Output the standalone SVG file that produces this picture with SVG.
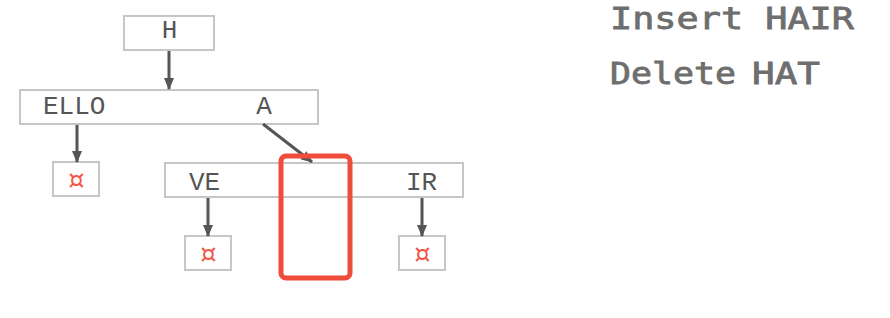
<svg xmlns="http://www.w3.org/2000/svg" width="890" height="318" viewBox="0 0 890 318">
  <style>
    .node rect { fill: #ffffff; stroke: #c6c6c6; stroke-width: 2; }
    .lbl { font-family: "Liberation Mono", "DejaVu Sans Mono", monospace; font-size: 26px; fill: #555555; }
    .end { font-family: "DejaVu Sans Mono", "Liberation Mono", monospace; font-size: 32px; fill: #f0584a; text-anchor: middle; }
    .edge { stroke: #555555; stroke-width: 3; fill: none; }
    .op { font-family: "DejaVu Sans Mono", "Liberation Mono", monospace; font-size: 31px; fill: #6e6e6e; stroke: #6e6e6e; stroke-width: 0.8; }
  </style>
  <defs>
    <marker id="arrow" viewBox="0 0 12 10" refX="11" refY="5" markerWidth="12" markerHeight="10" markerUnits="userSpaceOnUse" orient="auto">
      <path d="M0,0 L12,5 L0,10 Z" fill="#555555"/>
    </marker>
  </defs>

  <rect x="0" y="0" width="890" height="318" fill="#ffffff"/>
  <rect x="0" y="0" width="482" height="290" fill="#fdfefd"/>

  <!-- trie nodes -->
  <g id="node-h" class="node">
    <rect x="124" y="16" width="90" height="34"/>
    <text class="lbl" x="169.5" y="38" text-anchor="middle">H</text>
  </g>
  <g id="node-ello-a" class="node">
    <rect x="20" y="90" width="298" height="34"/>
    <text class="lbl" x="43" y="114">ELLO</text>
    <text class="lbl" x="264" y="114" text-anchor="middle">A</text>
  </g>
  <g id="node-end-ello" class="node">
    <rect x="53" y="162" width="46" height="34"/>
    <text class="end" x="76" y="191">¤</text>
  </g>
  <g id="node-ve-ir" class="node">
    <rect x="165" y="163" width="298" height="34"/>
    <text class="lbl" x="189" y="190">VE</text>
    <text class="lbl" x="406" y="190">IR</text>
  </g>
  <g id="node-end-ve" class="node">
    <rect x="185" y="236" width="46" height="34"/>
    <text class="end" x="208" y="265">¤</text>
  </g>
  <g id="node-end-ir" class="node">
    <rect x="399" y="236" width="46" height="34"/>
    <text class="end" x="422" y="265">¤</text>
  </g>

  <!-- connectors -->
  <g id="edges">
    <line class="edge" x1="169" y1="51" x2="169" y2="89" marker-end="url(#arrow)"/>
    <line class="edge" x1="77" y1="125" x2="77" y2="162" marker-end="url(#arrow)"/>
    <line class="edge" x1="263" y1="124" x2="312" y2="162" marker-end="url(#arrow)"/>
    <line class="edge" x1="208" y1="198" x2="208" y2="236" marker-end="url(#arrow)"/>
    <line class="edge" x1="422" y1="198" x2="422" y2="236" marker-end="url(#arrow)"/>
  </g>

  <!-- highlighted slot -->
  <rect id="highlight" x="281" y="156" width="69" height="122" rx="5" fill="none" stroke="#f04c3c" stroke-width="5"/>

  <!-- operations -->
  <text class="op" x="610" y="29" textLength="244" lengthAdjust="spacingAndGlyphs">Insert HAIR</text>
  <text class="op" x="610" y="84"><tspan textLength="126" lengthAdjust="spacingAndGlyphs">Delete</tspan> <tspan x="752" textLength="68" lengthAdjust="spacingAndGlyphs">HAT</tspan></text>
</svg>
